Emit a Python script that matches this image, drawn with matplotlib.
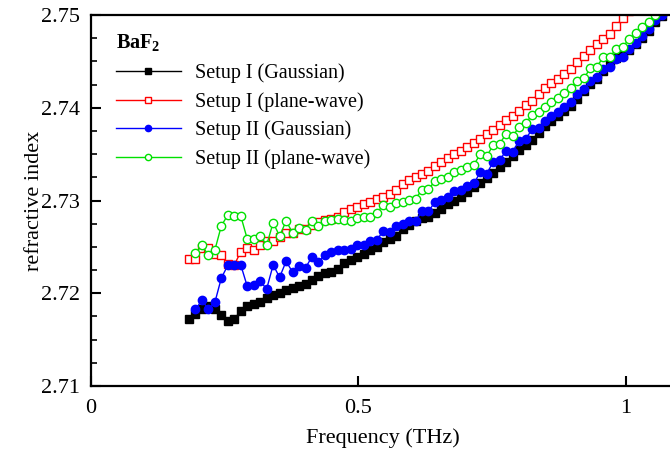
import matplotlib
matplotlib.use("Agg")
import matplotlib.pyplot as plt

plt.rcParams['font.family'] = ['Liberation Serif', 'DejaVu Serif']
plt.rcParams['mathtext.fontset'] = 'custom'
plt.rcParams['mathtext.rm'] = 'Liberation Serif'
plt.rcParams['mathtext.bf'] = 'Liberation Serif:bold'

# Frequency grid (THz)
freq = [0.1832, 0.1953, 0.2074, 0.2195, 0.2316, 0.2437, 0.2558, 0.2679, 0.2800, 0.2921,
        0.3042, 0.3163, 0.3284, 0.3405, 0.3526, 0.3647, 0.3768, 0.3889, 0.4010, 0.4131,
        0.4252, 0.4373, 0.4494, 0.4615, 0.4736, 0.4857, 0.4978, 0.5099, 0.5220, 0.5341,
        0.5462, 0.5583, 0.5704, 0.5825, 0.5946, 0.6067, 0.6188, 0.6309, 0.6430, 0.6551,
        0.6672, 0.6793, 0.6914, 0.7035, 0.7156, 0.7277, 0.7398, 0.7519, 0.7640, 0.7761,
        0.7882, 0.8003, 0.8124, 0.8245, 0.8366, 0.8487, 0.8608, 0.8729, 0.8850, 0.8971,
        0.9092, 0.9213, 0.9334, 0.9455, 0.9576, 0.9697, 0.9818, 0.9939, 1.0060, 1.0181,
        1.0302, 1.0423, 1.0544, 1.0665]

setup1_gauss = [2.71719, 2.71776, 2.71827, 2.71866, 2.71830, 2.71762, 2.71701, 2.71719, 2.71812, 2.71866,
                2.71884, 2.71906, 2.71952, 2.71981, 2.72006, 2.72032, 2.72053, 2.72081, 2.72103, 2.72143,
                2.72189, 2.72215, 2.72229, 2.72265, 2.72323, 2.72358, 2.72391, 2.72423, 2.72466, 2.72502,
                2.72549, 2.72582, 2.72617, 2.72693, 2.72736, 2.72779, 2.72811, 2.72822, 2.72860, 2.72908,
                2.72962, 2.73000, 2.73038, 2.73092, 2.73146, 2.73194, 2.73243, 2.73297, 2.73356, 2.73415,
                2.73485, 2.73544, 2.73598, 2.73652, 2.73727, 2.73798, 2.73857, 2.73906, 2.73965, 2.74024,
                2.74094, 2.74181, 2.74256, 2.74310, 2.74396, 2.74482, 2.74536, 2.74569, 2.74623, 2.74687,
                2.74757, 2.74827, 2.74925, 2.74989]

setup1_plane = [2.72366, 2.72366, 2.72488, 2.72493, 2.72423, 2.72412, 2.72310, 2.72305, 2.72448, 2.72488,
                2.72461, 2.72520, 2.72563, 2.72558, 2.72609, 2.72646, 2.72646, 2.72689, 2.72689, 2.72736,
                2.72768, 2.72790, 2.72800, 2.72822, 2.72876, 2.72903, 2.72930, 2.72962, 2.72984, 2.73016,
                2.73043, 2.73075, 2.73108, 2.73178, 2.73216, 2.73248, 2.73286, 2.73323, 2.73372, 2.73410,
                2.73453, 2.73496, 2.73539, 2.73577, 2.73625, 2.73668, 2.73712, 2.73765, 2.73817, 2.73863,
                2.73916, 2.73970, 2.74030, 2.74078, 2.74148, 2.74213, 2.74267, 2.74315, 2.74364, 2.74423,
                2.74488, 2.74553, 2.74623, 2.74687, 2.74741, 2.74795, 2.74881, 2.74968, 2.75043]

setup2_gauss = [2.71827, 2.71924, 2.71828, 2.71902, 2.72165, 2.72301, 2.72301, 2.72305, 2.72075,
                2.72089, 2.72129, 2.72046, 2.72305, 2.72172, 2.72344, 2.72229, 2.72297, 2.72272, 2.72396,
                2.72340, 2.72416, 2.72447, 2.72466, 2.72471, 2.72475, 2.72520, 2.72520, 2.72559, 2.72578,
                2.72666, 2.72660, 2.72725, 2.72752, 2.72779, 2.72774, 2.72887, 2.72887, 2.72981, 2.73005,
                2.73043, 2.73102, 2.73116, 2.73160, 2.73185, 2.73302, 2.73291, 2.73415, 2.73440, 2.73534,
                2.73523, 2.73645, 2.73660, 2.73768, 2.73785, 2.73857, 2.73911, 2.73949, 2.74011, 2.74067,
                2.74145, 2.74199, 2.74285, 2.74328, 2.74415, 2.74443, 2.74522, 2.74550, 2.74630, 2.74695,
                2.74774, 2.74846, 2.74946, 2.75000]

setup2_plane = [2.72431, 2.72515, 2.72412, 2.72466, 2.72728, 2.72844, 2.72836, 2.72833, 2.72585,
                2.72585, 2.72617, 2.72520, 2.72761, 2.72617, 2.72779, 2.72653, 2.72700, 2.72687, 2.72782,
                2.72725, 2.72782, 2.72790, 2.72797, 2.72790, 2.72782, 2.72808, 2.72825, 2.72825, 2.72862,
                2.72951, 2.72926, 2.72976, 2.72987, 2.73005, 2.73019, 2.73116, 2.73121, 2.73210, 2.73232,
                2.73257, 2.73302, 2.73326, 2.73361, 2.73383, 2.73501, 2.73477, 2.73598, 2.73612, 2.73720,
                2.73693, 2.73792, 2.73832, 2.73922, 2.73949, 2.74013, 2.74062, 2.74100, 2.74156, 2.74210,
                2.74288, 2.74318, 2.74425, 2.74443, 2.74544, 2.74550, 2.74630, 2.74658, 2.74738, 2.74803,
                2.74874, 2.74928, 2.75000, 2.75054]

labels = ["Setup I (Gaussian)", "Setup I (plane-wave)", "Setup II (Gaussian)", "Setup II (plane-wave)"]
x_ticks = [0, 0.5, 1]
x_ticklabels = ["0", "0.5", "1"]
y_ticks = [2.71, 2.72, 2.73, 2.74, 2.75]

fig = plt.figure(figsize=(6.70, 4.49), dpi=100)
ax = fig.add_axes([0.1358, 0.1403, 0.8703, 0.8263])

ax.plot(freq[:len(setup1_gauss)], setup1_gauss, '-s', color='black', lw=1.0,
        ms=5.5, mfc='black', mec='black', label=labels[0])
ax.plot(freq[:len(setup1_plane)], setup1_plane, '-s', color='red', lw=1.0,
        ms=6, mfc='white', mec='red', mew=1.0, label=labels[1])
ax.plot(freq[1:1 + len(setup2_gauss)], setup2_gauss, '-o', color='blue', lw=1.0,
        ms=6, mfc='blue', mec='blue', label=labels[2])
ax.plot(freq[1:1 + len(setup2_plane)], setup2_plane, '-o', color='#00e000', lw=1.0,
        ms=6, mfc='white', mec='#00e000', mew=1.0, label=labels[3])

ax.set_xlim(0, 1.09)
ax.set_ylim(2.71, 2.75)
ax.set_xticks(x_ticks)
ax.set_xticklabels(x_ticklabels)
ax.set_yticks(y_ticks)
ax.set_yticks([2.7125, 2.715, 2.7175, 2.7225, 2.725, 2.7275, 2.7325, 2.735, 2.7375,
               2.7425, 2.745, 2.7475], minor=True)
ax.yaxis.set_major_formatter(matplotlib.ticker.FormatStrFormatter('%.2f'))

for s in ax.spines.values():
    s.set_linewidth(1.6)
ax.tick_params(which='major', direction='in', length=7, width=1.5, labelsize=16,
               top=False, right=False)
ax.tick_params(which='minor', direction='in', length=4, width=1.2, top=False, right=False)
ax.tick_params(axis='y', which='major', pad=8)
ax.tick_params(axis='x', which='major', pad=9)

ax.set_xlabel("Frequency (THz)", fontsize=16, labelpad=8)
ax.set_ylabel("refractive index", fontsize=16, labelpad=-2)

leg = ax.legend(loc='upper left', bbox_to_anchor=(0.012, 1.0), frameon=False,
                title=r"BaF$_\mathbf{2}$", title_fontproperties={'weight': 'bold', 'size': 14.5},
                fontsize=14.5, handlelength=3.2, markerscale=0.75, labelspacing=0.44,
                alignment='left', handletextpad=0.7)

fig.savefig("out.png", dpi=100)
